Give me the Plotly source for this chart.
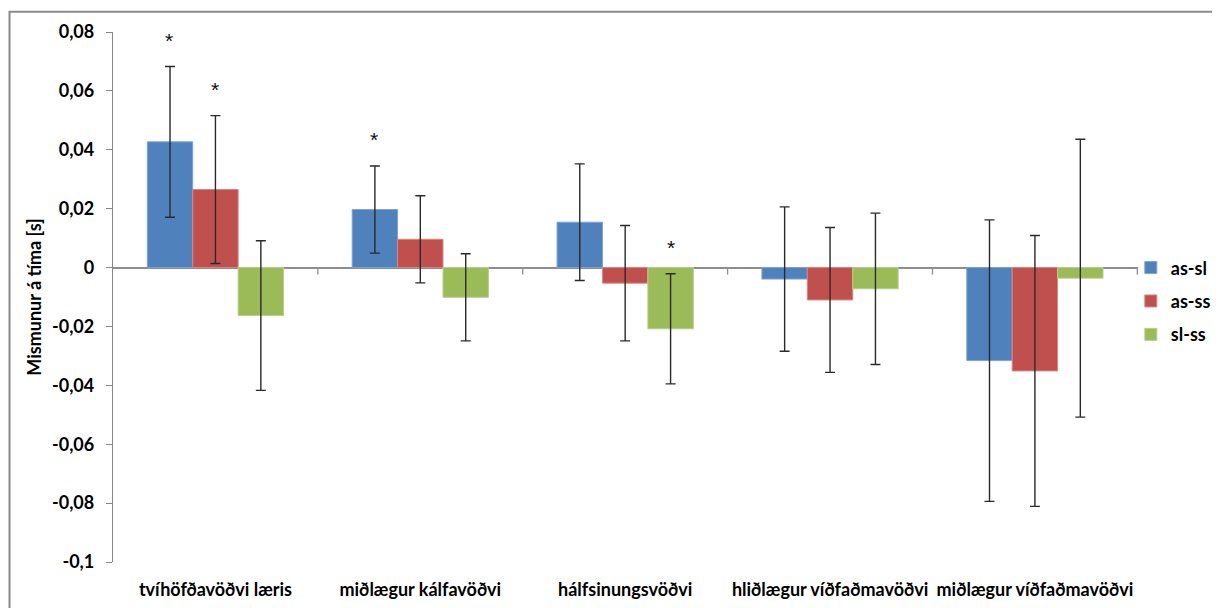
import plotly.graph_objects as go

categories = ["tvíhöfðavöðvi læris", "miðlægur kálfavöðvi", "hálfsinungsvöðvi",
              "hliðlægur víðfaðmavöðvi", "miðlægur víðfaðmavöðvi"]
series_names = ["as-sl", "as-ss", "sl-ss"]

as_sl = [0.0427, 0.0197, 0.0154, -0.0039, -0.0316]
as_ss = [0.0265, 0.0096, -0.0053, -0.0110, -0.0351]
sl_ss = [-0.0163, -0.0101, -0.0208, -0.0072, -0.0036]

as_sl_err = [0.0256, 0.0148, 0.0198, 0.0245, 0.0478]
as_ss_err = [0.0251, 0.0148, 0.0196, 0.0246, 0.0460]
sl_ss_err = [0.0254, 0.0148, 0.0187, 0.0257, 0.0472]

# significance stars: (series index, category index)
stars = [(0, 0), (1, 0), (0, 1), (2, 2)]

y_tickvals = [-0.1, -0.08, -0.06, -0.04, -0.02, 0, 0.02, 0.04, 0.06, 0.08]
y_ticktext = ["-0,1", "-0,08", "-0,06", "-0,04", "-0,02", "0", "0,02", "0,04", "0,06", "0,08"]

colors = ["#4F81BD", "#C0504D", "#9BBB59"]
edge_colors = ["#7EA3D1", "#D98583", "#B7D08A"]

values = [as_sl, as_ss, sl_ss]
errors = [as_sl_err, as_ss_err, sl_ss_err]

FONT = "Lato"
OFF = 8  # page body margin offset
W, H = 1220, 608
PLOT_L, PLOT_T, PLOT_W, PLOT_H = 113, 28, 1045, 534
ML = PLOT_L - OFF
MT = PLOT_T - OFF
MR = W - ML - PLOT_W
MB = H - MT - PLOT_H
BARGAP = 0.335

fig = go.Figure()
for i, name in enumerate(series_names):
    fig.add_trace(go.Bar(
        name=name, x=categories, y=values[i],
        marker=dict(color=colors[i], line=dict(color=edge_colors[i], width=1)),
        error_y=dict(type="data", array=errors[i], visible=True,
                     color="#2a2a2a", thickness=1.4, width=5),
        legendgroup=name,
    ))

cat_w = PLOT_W / len(categories)
bar_w = cat_w * (1 - BARGAP) / 3

annotations = []
for s, c in stars:
    top = values[s][c] + errors[s][c]
    annotations.append(dict(
        x=categories[c], y=top, xref="x", yref="y", text="*",
        showarrow=False, xshift=(s - 1) * bar_w, yshift=26,
        font=dict(family="Liberation Sans", size=21, color="#111111"),
    ))

shapes = []
# category boundary ticks hanging from the zero line
for k in range(len(categories)):
    shapes.append(dict(type="line", xref="x", yref="y", x0=k + 0.5, x1=k + 0.5,
                       ysizemode="pixel", yanchor=0, y0=0, y1=-7,
                       line=dict(color="#8E8E8E", width=1.3)))
# outer chart border (page pixel coords -> paper)
def px2x(p):
    return (p - PLOT_L) / PLOT_W
def py2y(p):
    return (PLOT_T + PLOT_H - p) / PLOT_H
shapes.append(dict(type="rect", xref="paper", yref="paper",
                   x0=px2x(7.5), x1=px2x(1240), y0=py2y(640), y1=py2y(7.5),
                   line=dict(color="#8A8A8A", width=2), fillcolor="rgba(0,0,0,0)"))

fig.update_layout(
    width=W, height=H,
    margin=dict(l=ML, r=MR, t=MT, b=MB),
    paper_bgcolor="white", plot_bgcolor="white",
    barmode="group", bargap=BARGAP, bargroupgap=0,
    font=dict(family=FONT, size=18, color="black"),
    legend=dict(x=0.993, xanchor="left", y=py2y(247), yanchor="top",
                font=dict(family=FONT, size=18, color="black", weight="bold"),
                itemwidth=30, tracegroupgap=7, bgcolor="rgba(0,0,0,0)"),
    annotations=annotations,
    shapes=shapes,
)
fig.update_xaxes(
    showline=False, showgrid=False, ticks="", zeroline=False,
    tickfont=dict(family=FONT, size=18, color="black", weight="bold"),
    ticklabelstandoff=15,
)
fig.update_yaxes(
    range=[-0.1, 0.08], tickvals=y_tickvals, ticktext=y_ticktext,
    showgrid=False, showline=True, linecolor="#868686", linewidth=1.3,
    ticks="outside", ticklen=6, tickcolor="#868686", tickwidth=1.3,
    zeroline=True, zerolinecolor="#8E8E8E", zerolinewidth=1.5,
    tickfont=dict(family=FONT, size=18, color="black", weight="bold"),
    ticklabelstandoff=8,
    title=dict(text="Mismunur á tíma [s]", standoff=5,
               font=dict(family=FONT, size=18, color="black", weight="bold")),
)

fig.write_html("out.html")
